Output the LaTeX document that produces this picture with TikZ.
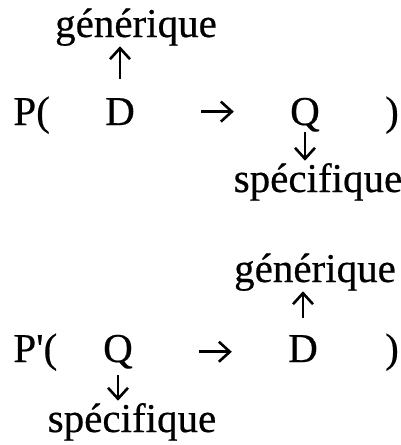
\documentclass[tikz,border=0pt]{standalone}
\usepackage{fontspec}
\setmainfont{Liberation Serif}[FakeBold=0.5]
\usetikzlibrary{arrows.meta}

\begin{document}
\begin{tikzpicture}[x=0.5pt, y=-0.5pt, every node/.style={inner sep=0pt, anchor=base, font=\fontsize{20.5}{24}\selectfont},
    vec/.style={line width=1.3pt, -{Straight Barb[length=5.5pt, width=10pt]}},
    rel/.style={vec, shorten <=33pt, shorten >=28pt}]
      \useasboundingbox (0,0) rectangle (401,445);
      \node[anchor=base west] (p1) at (13,125) {P(};
      \node (d1) at (120,125) {D};
      \node (q1) at (305,125) {Q};
      \node (close1) at (392,125) {)};
      \node (gen1) at (136,37) {générique};
      \node (spec1) at (318,192) {spécifique};
      \draw[rel] (d1.east) -- (d1.east -| q1.west);
      \draw[vec] ([yshift=9.5pt]d1.north) -- (d1.north |- gen1.south);
      \draw[vec] (q1.south) -- ([yshift=1pt]q1.south |- spec1.north);

      \node[anchor=base west] (p2) at (13,362) {P\textquotesingle(};
      \node (q2) at (118,362) {Q};
      \node (d2) at (303,362) {D};
      \node (close2) at (392,362) {)};
      \node (gen2) at (315,282) {générique};
      \node (spec2) at (132,432) {spécifique};
      \draw[rel] (q2.east) -- (q2.east -| d2.west);
      \draw[vec] ([yshift=8.5pt]d2.north) -- (d2.north |- gen2.south);
      \draw[vec] ([yshift=-3pt]q2.south) -- ([yshift=1pt]q2.south |- spec2.north);
    \end{tikzpicture}
\end{document}
